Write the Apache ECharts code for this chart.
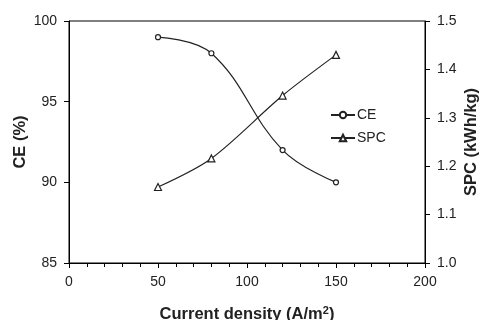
<!DOCTYPE html>
<html><head><meta charset="utf-8">
<script src="https://cdn.jsdelivr.net/npm/echarts@6/dist/echarts.min.js"></script>
<style>html,body{margin:0;padding:0;background:#fff}#c{width:488px;height:320px}</style>
</head><body><div id="c"></div>
<script>
const currentDensity = [50, 80, 120, 150];
const ceValues = [99.0, 98.0, 92.0, 90.0];
const spcValues = [1.157, 1.216, 1.346, 1.430];
const xTicks = [0, 50, 100, 150, 200];
const ceTicks = [85, 90, 95, 100];
const spcTicks = [1.0, 1.1, 1.2, 1.3, 1.4, 1.5];

const chart = echarts.init(document.getElementById('c'), null, {renderer: 'canvas'});
const font = 'Liberation Sans, Arial, sans-serif';
const txt = '#222';
const axisLine = {show: true, lineStyle: {color: '#000', width: 1}};
chart.setOption({
  animation: false,
  backgroundColor: '#fff',
  grid: {left: 69, right: 63, top: 21, bottom: 57, show: true, borderColor: '#000', borderWidth: 1, backgroundColor: 'transparent', outerBoundsMode: 'none', containLabel: false},
  legend: {
    orient: 'vertical', left: 325, top: 103, itemGap: 9, itemWidth: 24, itemHeight: 8,
    textStyle: {fontFamily: font, fontSize: 14, color: txt, padding: [0, 0, 0, -3]},
    data: ['CE', 'SPC']
  },
  xAxis: {
    type: 'value', min: xTicks[0], max: xTicks[xTicks.length - 1], interval: 50,
    axisLine: axisLine,
    axisTick: {show: true, inside: false, length: 5, lineStyle: {color: '#000'}},
    minorTick: {show: true, splitNumber: 5, length: 4, lineStyle: {color: '#000'}},
    splitLine: {show: false},
    axisLabel: {fontFamily: font, fontSize: 14, color: txt, margin: 12},
    name: '{a|Current density (A/m}{s|2}{a|)}',
    nameLocation: 'middle', nameGap: 42, nameMoveOverlap: false,
    nameTextStyle: {rich: {
      a: {fontFamily: font, fontSize: 16.5, fontWeight: 'bold', color: txt, verticalAlign: 'bottom'},
      s: {fontFamily: font, fontSize: 11, fontWeight: 'bold', color: txt, verticalAlign: 'top', padding: [0, 0, 7, 0]}
    }}
  },
  yAxis: [{
    type: 'value', min: 85, max: 100, interval: 5, position: 'left',
    axisLine: axisLine,
    axisTick: {show: true, inside: false, length: 5, lineStyle: {color: '#000'}},
    splitLine: {show: false},
    axisLabel: {fontFamily: font, fontSize: 14, color: txt, margin: 12},
    name: 'CE (%)', nameLocation: 'middle', nameGap: 40, nameRotate: 90, nameMoveOverlap: false,
    nameTextStyle: {fontFamily: font, fontSize: 16.5, fontWeight: 'bold', color: txt}
  }, {
    type: 'value', min: 1.0, max: 1.5, interval: 0.1, position: 'right',
    axisLine: axisLine,
    axisTick: {show: true, inside: false, length: 5, lineStyle: {color: '#000'}},
    splitLine: {show: false},
    axisLabel: {fontFamily: font, fontSize: 14, color: txt, margin: 12, formatter: v => v.toFixed(1)},
    name: 'SPC (kWh/kg)', nameLocation: 'middle', nameGap: 38, nameRotate: 90, nameMoveOverlap: false,
    nameTextStyle: {fontFamily: font, fontSize: 16.5, fontWeight: 'bold', color: txt}
  }],
  series: [{
    name: 'CE', type: 'line', yAxisIndex: 0, smooth: 0.4,
    data: currentDensity.map((x, i) => [x, ceValues[i]]),
    symbol: 'circle', symbolSize: 5,
    lineStyle: {color: '#222', width: 1.2},
    itemStyle: {color: '#fff', borderColor: '#222', borderWidth: 1.2}
  }, {
    name: 'SPC', type: 'line', yAxisIndex: 1, smooth: 0.3,
    data: currentDensity.map((x, i) => [x, spcValues[i]]),
    symbol: 'triangle', symbolSize: 7,
    lineStyle: {color: '#222', width: 1.2},
    itemStyle: {color: '#fff', borderColor: '#222', borderWidth: 1.2}
  }]
});
</script></body></html>
